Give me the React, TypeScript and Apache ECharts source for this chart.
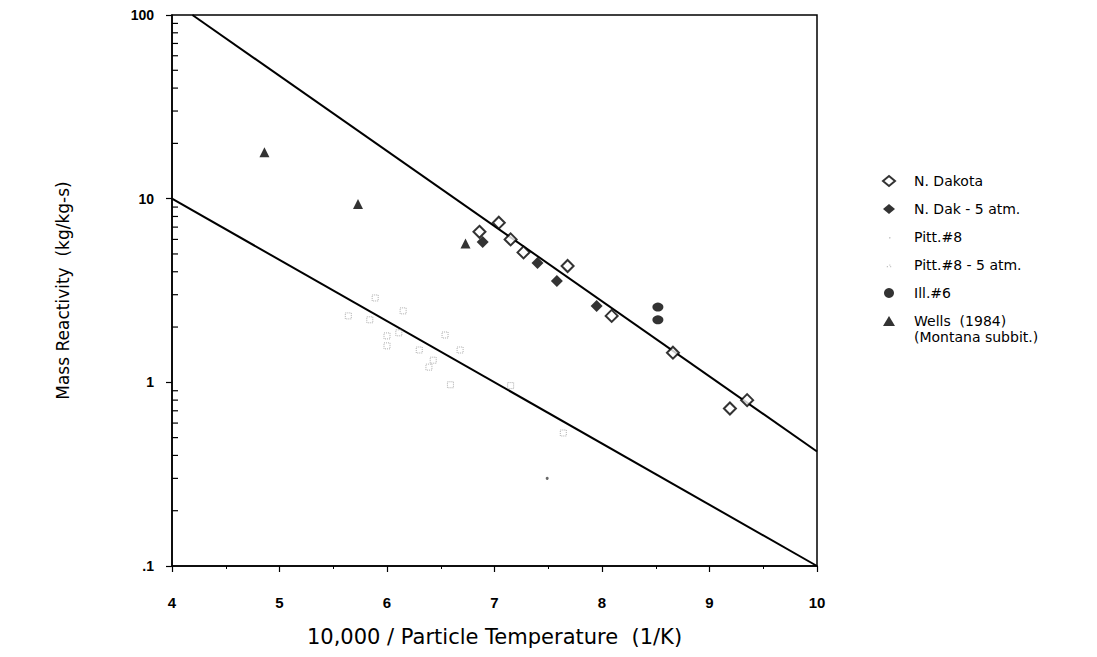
import React, { useEffect, useRef } from "react";
import * as echarts from "echarts";

const xTicks = [4, 5, 6, 7, 8, 9, 10];
const yTicks = [0.1, 1, 10, 100];

const nDakota: [number, number][] = [
  [6.86, 6.6], [7.04, 7.4], [7.15, 6.0], [7.27, 5.1], [7.68, 4.3],
  [8.09, 2.3], [8.66, 1.45], [9.19, 0.72], [9.35, 0.8],
];
const nDak5atm: [number, number][] = [
  [6.89, 5.8], [7.4, 4.47], [7.58, 3.56], [7.95, 2.6],
];
const pitt8: [number, number][] = [[7.49, 0.3]];
const pitt8_5atm: [number, number][] = [
  [5.89, 2.88], [5.64, 2.3], [5.84, 2.19], [6.15, 2.45], [6.0, 1.79],
  [6.0, 1.58], [6.11, 1.86], [6.3, 1.5], [6.43, 1.32], [6.39, 1.21],
  [6.54, 1.81], [6.68, 1.5], [6.59, 0.97], [7.15, 0.96], [7.64, 0.53],
];
const ill6: [number, number][] = [[8.52, 2.57], [8.52, 2.19]];
const wells: [number, number][] = [[4.86, 17.9], [5.73, 9.36], [6.73, 5.7]];

const upperLine: [number, number][] = [[4.19, 100], [10, 0.42]];
const lowerLine: [number, number][] = [[4, 10], [10, 0.1]];

const minorYTicks = [
  0.2, 0.3, 0.4, 0.5, 0.6, 0.7, 0.8, 0.9,
  2, 3, 4, 5, 6, 7, 8, 9,
  20, 30, 40, 50, 60, 70, 80, 90,
];

const legendNames = [
  "N. Dakota",
  "N. Dak - 5 atm.",
  "Pitt.#8",
  "Pitt.#8 - 5 atm.",
  "Ill.#6",
  "Wells  (1984)",
];

const svgIcon = (body: string) =>
  "image://data:image/svg+xml;utf8," +
  encodeURIComponent(
    `<svg xmlns="http://www.w3.org/2000/svg" width="12" height="12" viewBox="0 0 12 12">${body}</svg>`
  );

const pittDotIcon = svgIcon('<circle cx="7" cy="7" r="0.8" fill="#777"/>');
const pittSpeckIcon = svgIcon(
  '<circle cx="4" cy="8" r="0.7" fill="#999"/><circle cx="7" cy="6" r="0.7" fill="#999"/><circle cx="8" cy="8" r="0.7" fill="#aaa"/>'
);

export default function App() {
  const ref = useRef<HTMLDivElement>(null);

  useEffect(() => {
    if (!ref.current) return;
    const chart = echarts.init(ref.current, null, { renderer: "svg" });
    const font = "'Liberation Sans', Arial, Helvetica, sans-serif";
    const wide = "'DejaVu Sans', 'Liberation Sans', sans-serif";

    chart.setOption({
      animation: false,
      backgroundColor: "#fff",
      textStyle: { fontFamily: font, color: "#000" },
      grid: {
        left: 172,
        right: 280,
        top: 15,
        bottom: 91,
        show: true,
        borderColor: "#000",
        borderWidth: 1.5,
      },
      xAxis: {
        type: "value",
        min: 4,
        max: 10,
        interval: 1,
        name: "10,000 / Particle Temperature  (1/K)",
        nameLocation: "middle",
        nameGap: 60,
        nameTextStyle: { fontSize: 21, fontFamily: wide, color: "#000" },
        axisLine: { lineStyle: { color: "#000", width: 1.5 } },
        axisTick: { show: true, inside: false, length: 6, lineStyle: { color: "#000", width: 1.2 } },
        minorTick: { show: true, splitNumber: 2, length: 3, lineStyle: { color: "#000", width: 1 } },
        splitLine: { show: false },
        axisLabel: {
          margin: 29,
          fontSize: 15,
          fontWeight: "bold",
          color: "#000",
          fontFamily: font,
          formatter: (v: number) => (xTicks.includes(v) ? String(v) : ""),
        },
      },
      yAxis: {
        type: "log",
        logBase: 10,
        min: 0.1,
        max: 100,
        name: "Mass Reactivity  (kg/kg-s)",
        nameLocation: "middle",
        nameGap: 101,
        nameTextStyle: { fontSize: 17, fontFamily: wide, color: "#000" },
        axisLine: { lineStyle: { color: "#000", width: 1.5 } },
        axisTick: { show: true, inside: false, length: 6, lineStyle: { color: "#000", width: 1.2 } },
        splitLine: { show: false },
        axisLabel: {
          margin: 18,
          fontSize: 14,
          fontWeight: "bold",
          color: "#000",
          fontFamily: font,
          formatter: (v: number) => {
            const t = yTicks.find((k) => Math.abs(k - v) < 1e-9);
            if (t === undefined) return "";
            return t === 0.1 ? ".1" : String(t);
          },
        },
      },
      legend: {
        orient: "vertical",
        left: 877,
        top: 168,
        itemWidth: 12,
        itemHeight: 10,
        itemGap: 12,
        selectedMode: false,
        textStyle: {
          fontSize: 14,
          fontFamily: wide,
          color: "#000",
          lineHeight: 16,
          padding: [0, 0, 0, 14],
        },
        data: [
          { name: legendNames[0] },
          { name: legendNames[1] },
          { name: legendNames[2], icon: pittDotIcon },
          { name: legendNames[3], icon: pittSpeckIcon },
          { name: legendNames[4] },
          { name: legendNames[5] },
        ],
      },
      graphic: [
        {
          type: "text",
          left: 914,
          top: 330,
          style: {
            text: "(Montana subbit.)",
            fontSize: 14,
            fontFamily: wide,
            fill: "#000",
          },
        },
      ],
      series: [
        {
          name: "upper-fit",
          type: "line",
          data: upperLine,
          showSymbol: false,
          lineStyle: { color: "#000", width: 2 },
          silent: true,
          z: 2,
        },
        {
          name: "lower-fit",
          type: "line",
          data: lowerLine,
          showSymbol: false,
          lineStyle: { color: "#000", width: 2 },
          silent: true,
          z: 2,
        },
        {
          name: "minor-ticks",
          type: "custom",
          coordinateSystem: "cartesian2d",
          data: minorYTicks.map((v) => [4, v]),
          silent: true,
          clip: false,
          z: 5,
          renderItem: (params: any, api: any) => {
            const p = api.coord([api.value(0), api.value(1)]);
            return {
              type: "line",
              shape: { x1: p[0], y1: p[1], x2: p[0] + 6, y2: p[1] },
              style: { stroke: "#000", lineWidth: 1.2 },
            };
          },
        },
        {
          name: legendNames[0],
          type: "scatter",
          data: nDakota,
          symbol: "diamond",
          symbolSize: 12,
          itemStyle: { color: "#fff", borderColor: "#000", borderWidth: 2 },
          z: 4,
        },
        {
          name: legendNames[1],
          type: "scatter",
          data: nDak5atm,
          symbol: "diamond",
          symbolSize: 12,
          itemStyle: { color: "#000" },
          z: 4,
        },
        {
          name: legendNames[2],
          type: "scatter",
          data: pitt8,
          symbol: "circle",
          symbolSize: 3,
          itemStyle: { color: "#444" },
          z: 3,
        },
        {
          name: legendNames[3],
          type: "scatter",
          data: pitt8_5atm,
          symbol: "rect",
          symbolSize: 6,
          itemStyle: {
            color: "rgba(0,0,0,0)",
            borderColor: "#9a9a9a",
            borderWidth: 1,
            borderType: "dotted",
          },
          z: 3,
        },
        {
          name: legendNames[4],
          type: "scatter",
          data: ill6,
          symbol: "circle",
          symbolSize: [11, 9],
          itemStyle: { color: "#000" },
          z: 4,
        },
        {
          name: legendNames[5],
          type: "scatter",
          data: wells,
          symbol: "triangle",
          symbolSize: 10,
          itemStyle: { color: "#000" },
          z: 4,
        },
      ],
    });

    return () => chart.dispose();
  }, []);

  return (
    <div
      ref={ref}
      style={{ position: "absolute", left: 0, top: 0, width: 1097, height: 657 }}
    />
  );
}
